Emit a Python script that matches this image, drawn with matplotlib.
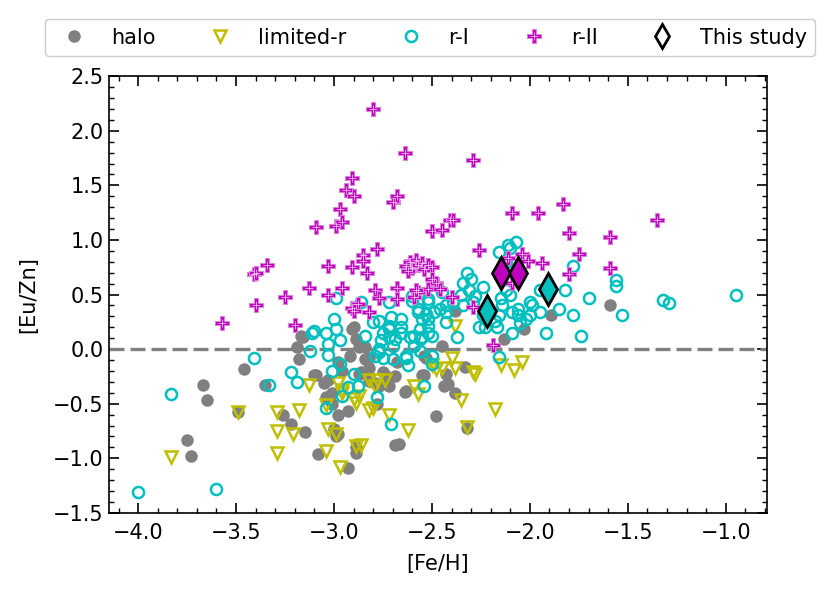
import numpy as np
import matplotlib
matplotlib.use("Agg")
import matplotlib.pyplot as plt
from matplotlib.lines import Line2D
from matplotlib.ticker import MultipleLocator

# halo stars
halo_feh = [-3.75, -3.73, -3.67, -3.65, -3.49, -3.46, -3.35, -3.26, -3.22, -3.15,
            -3.08, -3.18, -3.16, -3.19, -3.17, -3.09, -3.05, -3.03, -3.04, -3.01,
            -3.03, -3.01, -2.98, -2.93, -3.00, -2.98, -2.99, -2.89, -2.89, -2.93,
            -2.90, -2.91, -2.89, -2.87, -2.84, -2.82, -2.86, -2.79, -2.74, -2.72,
            -2.64, -2.69, -2.68, -2.67, -2.54, -2.48, -2.44, -2.45, -2.82, -2.82,
            -2.77, -2.73, -2.78, -2.92, -2.54, -2.53, -2.43, -2.42, -2.38, -2.33,
            -2.32, -2.13, -2.03, -1.59, -1.89, -2.38, -2.98, -2.96, -2.75, -2.69,
            -2.84, -2.87, -3.10, -2.55, -2.63]
halo_euzn = [-0.83, -0.98, -0.33, -0.47, -0.58, -0.18, -0.33, -0.60, -0.69, -0.76,
             -0.96, -0.09, 0.11, 0.02, 0.12, -0.24, -0.31, -0.28, -0.44, -0.40,
             -0.46, -0.50, -0.60, -0.57, -0.73, -0.78, -0.80, -0.90, -0.95, -1.09,
             0.20, 0.18, 0.09, 0.02, -0.09, -0.17, -0.21, -0.31, -0.24, -0.34,
             -0.39, -0.88, -0.12, -0.87, -0.24, -0.61, -0.34, 0.03, -0.08, -0.29,
             -0.34, -0.31, -0.50, -0.06, -0.06, -0.08, -0.23, -0.32, -0.40, -0.16,
             -0.72, 0.09, 0.18, 0.40, 0.31, 0.35, -0.12, -0.20, -0.21, -0.25,
             0.02, -0.23, -0.24, -0.24, -0.38]

# limited-r stars
lim_feh = [-3.83, -3.49, -3.29, -3.29, -3.29, -3.18, -3.21, -3.13, -3.04, -3.03,
           -2.99, -3.04, -2.97, -2.98, -2.96, -2.89, -2.89, -2.86, -2.82, -2.78,
           -2.74, -2.82, -2.80, -2.87, -2.72, -2.62, -2.59, -2.57, -2.48, -2.45,
           -2.50, -2.40, -2.38, -2.29, -2.28, -2.35, -2.32, -2.18, -2.15, -2.08,
           -2.04, -2.38, -2.96, -2.90, -2.79]
lim_euzn = [-0.99, -0.58, -0.58, -0.75, -0.95, -0.56, -0.78, -0.33, -0.51, -0.73,
            -0.78, -0.93, -1.08, -0.31, -0.40, -0.49, -0.89, -0.88, -0.28, -0.28,
            -0.28, -0.56, -0.54, -0.43, -0.60, -0.74, -0.34, -0.41, -0.18, -0.17,
            -0.15, -0.08, -0.17, -0.21, -0.23, -0.47, -0.71, -0.55, -0.15, -0.19,
            -0.12, 0.21, -0.37, -0.46, -0.34]

# r-I stars
r1_feh = [-4.00, -3.60, -3.83, -3.41, -3.33, -3.22, -3.19, -3.12, -3.11, -3.04,
          -3.00, -2.99, -2.97, -3.03, -3.03, -2.97, -3.01, -2.86, -2.99, -2.90,
          -2.88, -2.93, -2.96, -2.78, -3.04, -2.71, -2.54,
          -2.80, -2.77, -2.71, -2.66, -2.72, -2.66, -2.84, -2.76, -2.72, -2.69,
          -2.61, -2.59, -2.63, -2.62, -2.56, -2.52, -2.52, -2.50, -2.50, -2.57,
          -2.52, -2.45, -2.60, -2.72, -2.79, -2.75, -2.70, -2.77, -2.43, -2.43,
          -3.10, -2.75, -2.72, -2.66, -2.70, -2.77, -2.63, -2.55, -2.56, -2.56,
          -2.11, -2.07, -2.16, -2.12, -2.32, -2.34, -2.30, -2.31, -2.35, -2.28,
          -2.29, -2.34, -2.39, -2.43, -2.46, -2.49, -2.53, -2.57, -2.52, -2.60,
          -2.59, -2.55, -2.50, -2.52, -2.37, -2.26, -2.24, -2.18, -2.17, -2.14,
          -2.09, -2.06, -2.02, -1.99, -1.95, -1.95, -2.15, -2.10,
          -1.78, -1.82, -1.70, -1.85, -1.78, -1.74, -1.53, -1.56, -1.56, -1.32,
          -1.29, -0.95, -1.92, -2.00, -2.06, -2.00, -2.05, -2.09, -2.24, -2.12,
          -2.16, -2.16, -2.23, -2.10]
r1_euzn = [-1.31, -1.28, -0.41, -0.08, -0.33, -0.21, -0.30, -0.02, 0.15, 0.15,
           0.28, 0.18, 0.08, 0.05, -0.05, -0.14, -0.20, 0.43, 0.47, -0.23,
           -0.34, -0.35, -0.43, -0.44, -0.54, -0.69, -0.34,
           0.25, 0.26, 0.29, 0.28, 0.18, 0.20, 0.12, 0.08, 0.11, 0.09,
           0.11, 0.03, -0.06, -0.15, 0.18, 0.28, 0.15, -0.06, -0.14, 0.34,
           0.43, 0.52, 0.44, 0.43, -0.06, -0.08, -0.09, 0.00, 0.34, 0.25,
           0.17, 0.15, 0.21, 0.15, 0.03, -0.03, -0.08, 0.28, 0.09, -0.02,
           0.95, 0.98, 0.89, 0.80, 0.70, 0.61, 0.64, 0.54, 0.50, 0.49,
           0.43, 0.40, 0.43, 0.40, 0.37, 0.34, 0.32, 0.37, 0.46, 0.49,
           0.12, 0.11, 0.12, 0.21, 0.11, 0.20, 0.31, 0.26, 0.20, 0.40,
           0.34, 0.37, 0.28, 0.40, 0.34, 0.54, 0.47, 0.50,
           0.76, 0.54, 0.47, 0.37, 0.31, 0.12, 0.31, 0.63, 0.58, 0.45,
           0.42, 0.50, 0.15, 0.43, 0.31, 0.31, 0.24, 0.15, 0.57, 0.54,
           -0.07, 0.31, 0.20, 0.93]

# r-II stars
r2_feh = [-2.80, -2.64, -2.91, -2.94, -2.90, -2.70, -2.68, -2.97, -2.99, -2.96,
          -3.09, -2.50, -2.45, -2.41, -2.78, -2.85, -2.85, -2.83, -3.03, -2.91,
          -3.41, -3.40, -3.34, -2.63, -2.61, -2.60, -2.58, -2.57, -2.55, -2.54,
          -2.52, -2.50, -2.62, -2.50, -2.48, -3.13, -3.25, -3.03, -2.96, -2.79,
          -2.77, -2.68, -2.68, -2.57, -2.59, -2.52, -3.40, -2.91, -2.88, -3.57,
          -3.20, -2.90, -2.82, -2.29, -1.83, -1.35, -2.09, -1.96, -2.39, -1.80,
          -2.26, -1.59, -1.75, -1.59, -1.80, -2.04, -2.01, -1.94, -2.11, -2.09,
          -2.58, -2.46, -2.40, -2.29, -2.19]
r2_euzn = [2.20, 1.80, 1.57, 1.46, 1.40, 1.35, 1.40, 1.28, 1.13, 1.16,
           1.12, 1.08, 1.09, 1.18, 0.92, 0.86, 0.81, 0.70, 0.76, 0.75,
           0.69, 0.70, 0.77, 0.76, 0.80, 0.74, 0.82, 0.77, 0.79, 0.73,
           0.77, 0.75, 0.72, 0.64, 0.61, 0.56, 0.48, 0.50, 0.56, 0.54,
           0.47, 0.56, 0.46, 0.52, 0.48, 0.55, 0.40, 0.38, 0.41, 0.24,
           0.22, 0.35, 0.34, 1.73, 1.33, 1.18, 1.25, 1.25, 1.18, 1.06,
           0.91, 1.03, 0.87, 0.74, 0.69, 0.87, 0.81, 0.79, 0.83, 0.61,
           0.54, 0.55, 0.48, 0.39, 0.04]

# this study
ts_feh_r1 = [-2.22, -1.91]
ts_euzn_r1 = [0.35, 0.55]
ts_feh_r2 = [-2.15, -2.06]
ts_euzn_r2 = [0.70, 0.70]

fs = 15
fig = plt.figure(figsize=(8.3, 5.95), dpi=100)
ax = fig.add_axes([0.131, 0.138, 0.793, 0.734])

r2_edge = '#d884d8'
ax.plot(halo_feh, halo_euzn, 'o', color='grey', ms=9, mew=0, zorder=2)
ax.axhline(0.0, color='grey', ls='--', lw=2.4, dashes=(4.5, 1.8), zorder=2.5)
ax.plot(lim_feh, lim_euzn, 'v', mfc='none', mec='y', ms=8.5, mew=1.8, zorder=3)
ax.plot(r1_feh, r1_euzn, 'o', mfc='none', mec='c', ms=8, mew=1.8, zorder=4)
ax.plot(r2_feh, r2_euzn, 'P', color='m', mec=r2_edge, mew=0.8, ms=10, zorder=5)
ax.plot(r2_feh, r2_euzn, '+', color='#f4d8f4', mew=0.5, ms=6, zorder=5.5)
ax.plot(ts_feh_r1, ts_euzn_r1, 'd', mfc='c', mec='k', mew=2, ms=16, zorder=6)
ax.plot(ts_feh_r2, ts_euzn_r2, 'd', mfc='m', mec='k', mew=2, ms=16, zorder=6)

ax.set_xlim(-4.15, -0.79)
ax.set_ylim(-1.5, 2.5)
ax.xaxis.set_major_locator(MultipleLocator(0.5))
ax.xaxis.set_minor_locator(MultipleLocator(0.1))
ax.yaxis.set_major_locator(MultipleLocator(0.5))
ax.yaxis.set_minor_locator(MultipleLocator(0.1))
ax.tick_params(which='both', direction='in', top=True, right=True, labelsize=fs)
ax.tick_params(which='major', length=7, width=1.2)
ax.tick_params(which='minor', length=3.5, width=1)
ax.tick_params(axis='x', which='major', pad=7.5)
for sp in ax.spines.values():
    sp.set_linewidth(1.2)
ax.set_xlabel('[Fe/H]', fontsize=fs, labelpad=8)
ax.set_ylabel('[Eu/Zn]', fontsize=fs, labelpad=11)

# legend handles
h_halo = Line2D([], [], ls='none', marker='o', color='grey', mew=0, ms=9)
h_lim = Line2D([], [], ls='none', marker='v', mfc='none', mec='y', ms=8.5, mew=1.8)
h_r1 = Line2D([], [], ls='none', marker='o', mfc='none', mec='c', ms=8, mew=1.8)
h_r2a = Line2D([], [], ls='none', marker='P', color='m', mec=r2_edge, mew=0.8, ms=10)
h_r2b = Line2D([], [], ls='none', marker='+', color='#f4d8f4', mew=0.5, ms=6)
h_ts = Line2D([], [], ls='none', marker='d', mfc='w', mec='k', mew=2, ms=12.5)
fig.legend([h_halo, h_lim, h_r1, (h_r2a, h_r2b), h_ts],
           ['halo', 'limited-r', 'r-I', 'r-II', 'This study'],
           loc='center', bbox_to_anchor=(430 / 830, 1 - 37.5 / 595), ncol=5,
           fontsize=fs, handletextpad=0.8, columnspacing=2.1,
           fancybox=True, framealpha=1, edgecolor='0.8')

fig.savefig('out.png', dpi=100)
